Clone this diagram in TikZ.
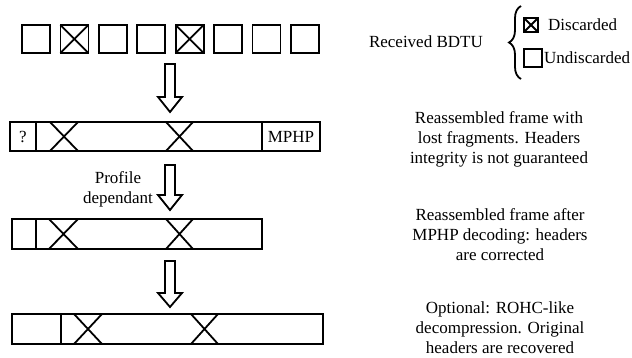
\documentclass[tikz,border=0pt]{standalone}
\usepackage{fontspec}
\setmainfont{Liberation Serif}
\usetikzlibrary{decorations.pathreplacing}
\begin{document}
\begin{tikzpicture}[x=1pt,y=-1pt]
\tikzstyle{cell} = [line width=1.8pt] %traits des cases et trames
\tikzstyle{txt} = [inner sep=0pt,font=\fontsize{17}{20}\selectfont,align=center] %textes
\useasboundingbox (0,0) rectangle (632,358);

%BDTU recus
\foreach \i in {0,...,7}
  \draw[cell] ({22+38.4*\i},25) rectangle ({50+38.4*\i},53);
\foreach \i in {1,4}
  {\draw[cell] ({22+38.4*\i},25)--({50+38.4*\i},53);
   \draw[cell] ({22+38.4*\i},53)--({50+38.4*\i},25);}

%fleches creuses
\foreach \t/\h/\b in {64/97/112,165/195/210,261/293/307}
  \draw[cell] (165,\t)--(175,\t)--(175,\h)--(182,\h)--(170,\b)--(158,\h)--(165,\h)--cycle;

%trame avec fragments perdus
\draw[cell] (10,122) rectangle (320,151);
\draw[cell] (36,122)--(36,151);
\draw[cell] (262,122)--(262,151);
\draw[cell] (50,122)--(78,151) (50,151)--(78,122);
\draw[cell] (166,122)--(193,151) (166,151)--(193,122);
\node[txt] (q) at (23,136.5) {?};
\node[txt] (mphp) at (291,136.5) {MPHP};

\node[txt] (prof) at (118,189) {Profile\\dependant};

%trame apres decodage MPHP
\draw[cell] (12,219) rectangle (262,249);
\draw[cell] (36,219)--(36,249);
\draw[cell] (49,219)--(78,249) (49,249)--(78,219);
\draw[cell] (166,219)--(193,249) (166,249)--(193,219);

%trame decompressee
\draw[cell] (12,314) rectangle (323,344);
\draw[cell] (61,314)--(61,344);
\draw[cell] (74,314)--(102,344) (74,344)--(102,314);
\draw[cell] (191,314)--(218,344) (191,344)--(218,314);

%legende
\node[txt,anchor=east] (rbdtu) at (483,42) {Received BDTU};
\draw[cell,decorate,decoration={brace,amplitude=12pt}] (521,79)--(521,6);
\draw[line width=2.4pt] (524,18) rectangle (538,32);
\draw[line width=1.8pt] (524,18)--(538,32) (524,32)--(538,18);
\node[txt,anchor=west] (disc) at (548,25) {Discarded};
\draw[cell] (524,49) rectangle (542,67);
\node[txt,anchor=west] (undisc) at (544,58) {Undiscarded};

%descriptions
\node[txt] (d1) at (499,139) {Reassembled frame with\\lost fragments. Headers\\integrity is not guaranteed};
\node[txt] (d2) at (500,235) {Reassembled frame after\\MPHP decoding: headers\\are corrected};
\node[txt] (d3) at (500,328) {Optional: ROHC-like\\decompression. Original\\headers are recovered};
\end{tikzpicture}
\end{document}
